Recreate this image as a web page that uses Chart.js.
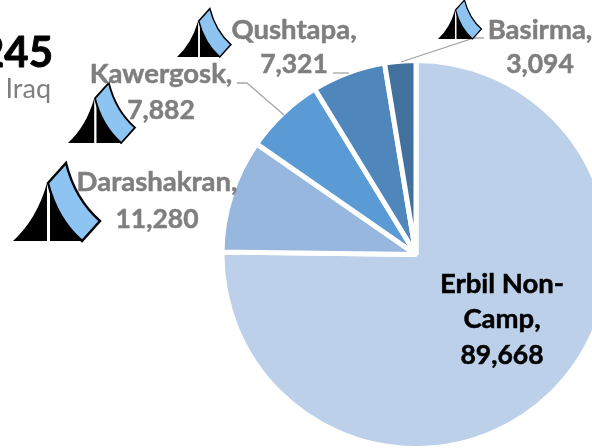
<!DOCTYPE html>
<html><head><meta charset="utf-8">
<style>html,body{margin:0;padding:0;background:#fff;overflow:hidden}#w{position:relative;width:592px;height:448px;overflow:hidden}canvas{display:block}</style>
<script src="https://cdn.jsdelivr.net/npm/chart.js@4"></script></head>
<body><div id="w"><canvas id="c" width="640" height="451"></canvas></div>
<script>
const categories=['Erbil Non-Camp','Darashakran','Kawergosk','Qushtapa','Basirma'];
const values=[89668,11280,7882,7321,3094];
const totalLabel='119,245';
const countryLabel='Iraq';
const colours=['#BDD0EA','#98B7DF','#5B9BD5','#4F87BC','#41719C'];
const FONT='Lato, "Open Sans", sans-serif';
const GREY='#7F7F7F';
const fmt=v=>v.toLocaleString('en-US');
const labelLayout=[
 {x:502,ys:[284,319,355],lines:['Erbil Non-','Camp,',fmt(values[0])],color:'#000'},
 {x:157,ys:[182,219],lines:[categories[1]+',',fmt(values[1])],color:GREY},
 {x:161,ys:[74,110],lines:[categories[2]+',',fmt(values[2])],color:GREY},
 {x:294,ys:[30,64],lines:[categories[3]+',',fmt(values[3])],color:GREY},
 {x:540,ys:[30,64],lines:[categories[4]+',',fmt(values[4])],color:GREY}
];
const leaders=[[[237,83],[247,83],[284,115]],[[333,73],[349,73]],[[484,38],[474,38],[401,62]]];
const tents=[{x:13,y:241,s:1},{x:68,y:143,s:.77},{x:177,y:57,s:.62},{x:438,y:39,s:.5}];
function drawTent(ctx,t){
 ctx.save();ctx.translate(t.x,t.y);ctx.scale(t.s,t.s);
 ctx.fillStyle='#000';
 ctx.beginPath();ctx.moveTo(0,0);ctx.quadraticCurveTo(24,-22,34,-58);ctx.lineTo(34,0);ctx.closePath();ctx.fill();
 ctx.beginPath();ctx.moveTo(37,-58);ctx.quadraticCurveTo(42,-24,69,0);ctx.lineTo(37,0);ctx.closePath();ctx.fill();
 ctx.fillStyle='#8DC4F2';ctx.strokeStyle='#000';ctx.lineWidth=2.4;ctx.lineJoin='miter';
 ctx.beginPath();ctx.moveTo(35,-58);ctx.lineTo(53,-78);ctx.quadraticCurveTo(62,-42,87,-20);ctx.lineTo(69,0);ctx.quadraticCurveTo(44,-22,35,-58);ctx.closePath();ctx.fill();ctx.stroke();
 ctx.restore();
}
const overlay={id:'overlay',afterDraw(chart){
 const ctx=chart.ctx;ctx.save();
 ctx.strokeStyle='#A6A6A6';ctx.lineWidth=1.3;
 leaders.forEach(l=>{ctx.beginPath();l.forEach((p,i)=>i?ctx.lineTo(p[0],p[1]):ctx.moveTo(p[0],p[1]));ctx.stroke();});
 tents.forEach(t=>drawTent(ctx,t));
 ctx.textBaseline='middle';ctx.textAlign='center';ctx.lineJoin='round';
 labelLayout.forEach(l=>{ctx.fillStyle=l.color;ctx.strokeStyle=l.color;ctx.lineWidth=.5;l.lines.forEach((s,i)=>{
  ctx.font=(/^[0-9,]+$/.test(s)?'bold 26.5px ':'bold 27.5px ')+FONT;
  ctx.fillText(s,l.x,l.ys[i]);ctx.strokeText(s,l.x,l.ys[i]);});});
 ctx.textAlign='right';ctx.fillStyle='#000';ctx.strokeStyle='#000';ctx.lineWidth=.9;ctx.font='bold 42px '+FONT;ctx.fillText(totalLabel,53,53);ctx.strokeText(totalLabel,53,53);
 ctx.fillStyle=GREY;ctx.font='27px '+FONT;ctx.fillText(countryLabel,51,89);
 ctx.restore();
}};
new Chart(document.getElementById('c'),{type:'pie',
 data:{labels:categories,datasets:[{data:values,backgroundColor:colours,borderColor:'#fff',borderWidth:5}]},
 options:{responsive:false,animation:false,layout:{padding:{left:219,right:27,top:58,bottom:0}},
  plugins:{legend:{display:false},tooltip:{enabled:false},title:{display:false}}},
 plugins:[overlay]});
</script></body></html>
